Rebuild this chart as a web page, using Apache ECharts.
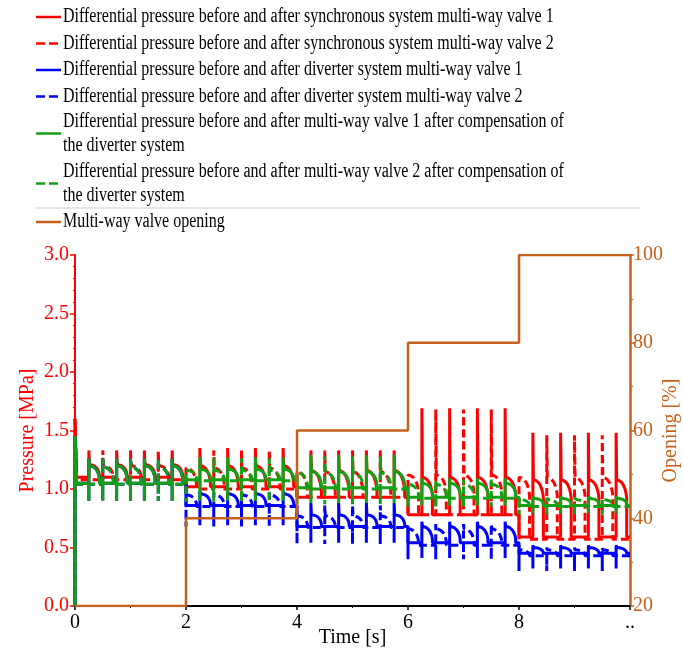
<!DOCTYPE html>
<html><head><meta charset="utf-8">
<script src="https://cdn.jsdelivr.net/npm/echarts@6/dist/echarts.min.js"></script>
<style>html,body{margin:0;padding:0;background:#fff}#c{width:683px;height:654px}</style>
</head><body><div id="c"></div>
<script>
const FONT = '"Liberation Serif","Times New Roman",serif';
const RED = '#FF0000', BLUE = '#0000FF', GREEN = '#14A014', ORANGE = '#C5611A';

// ---- axis ticks / labels ----
const timeTicks = [0, 2, 4, 6, 8, 10];
const timeTickLabels = ['0', '2', '4', '6', '8', '..'];
const pressureTicks = [0, 0.5, 1, 1.5, 2, 2.5, 3];
const pressureTickLabels = ['0.0', '0.5', '1.0', '1.5', '2.0', '2.5', '3.0'];
const openingTicks = [20, 40, 60, 80, 100];
const openingTickLabels = ['20', '40', '60', '80', '100'];

// ---- valve opening (step) ----
const openingTime  = [0, 2, 2, 4, 4, 6, 6, 8, 8, 10];
const openingValue = [20, 20, 40, 40, 60, 60, 80, 80, 100, 100];

// ---- switching stages and events ----
const stageStart = [0, 2, 4, 6, 8];
const valve1Times = [0.25, 0.75, 1.25, 1.75, 2.25, 2.75, 3.25, 3.75, 4.25, 4.75,
                     5.25, 5.75, 6.25, 6.75, 7.25, 7.75, 8.25, 8.75, 9.25, 9.75];
const valve2Times = [0.5, 1.0, 1.5, 2.0, 2.5, 3.0, 3.5, 4.0, 4.5, 5.0,
                     5.5, 6.0, 6.5, 7.0, 7.5, 8.0, 8.5, 9.0, 9.5];

// per stage: [spike peak, level after spike, end of decay curve, base level, dip]
const sync1Levels = [[1.33,1.21,1.12,1.10,1.10],[1.35,1.20,1.05,1.02,1.02],[1.33,1.16,0.98,0.93,0.93],[1.69,1.10,0.95,0.78,0.78],[1.48,1.08,0.92,0.59,0.59]];
const sync2Levels = [[1.33,1.20,1.11,1.08,1.08],[1.33,1.18,1.04,1.00,1.00],[1.33,1.15,0.97,0.93,0.93],[1.68,1.12,0.97,0.78,0.78],[1.46,1.10,0.94,0.57,0.57]];
const div1Levels  = [[1.26,1.20,1.09,1.05,0.90],[0.98,0.96,0.88,0.86,0.69],[0.88,0.78,0.70,0.68,0.54],[0.72,0.68,0.57,0.54,0.41],[0.52,0.50,0.46,0.45,0.32]];
const div2Levels  = [[1.26,1.19,1.08,1.04,0.90],[0.97,0.95,0.87,0.85,0.68],[0.86,0.77,0.69,0.67,0.53],[0.70,0.66,0.55,0.52,0.40],[0.50,0.48,0.44,0.43,0.30]];
const comp1Levels = [[1.26,1.20,1.09,1.05,0.90],[1.27,1.17,1.10,1.08,0.90],[1.29,1.15,1.04,1.01,0.88],[1.09,1.05,0.96,0.93,0.86],[0.93,0.92,0.88,0.86,0.79]];
const comp2Levels = [[1.26,1.19,1.08,1.04,0.90],[1.26,1.16,1.09,1.07,0.89],[1.28,1.14,1.03,1.00,0.87],[1.08,1.04,0.95,0.92,0.85],[0.92,0.91,0.87,0.85,0.78]];
// start-up transient peaks
const startPeaks = { sync1: 1.6, sync2: 1.6, div1: 1.45, div2: 1.45, comp1: 1.45, comp2: 1.45 };
// shape of the bend after each spike (time after event, fraction of the drop)
const curveDt   = [0.01, 0.05, 0.09, 0.13, 0.16, 0.18, 0.19];
const curveFrac = [0, 0.04, 0.12, 0.28, 0.50, 0.75, 1];

const names = [
  'Differential pressure before and after synchronous system multi-way valve 1',
  'Differential pressure before and after synchronous system multi-way valve 2',
  'Differential pressure before and after diverter system multi-way valve 1',
  'Differential pressure before and after diverter system multi-way valve 2',
  'Differential pressure before and after multi-way valve 1 after compensation of the diverter system',
  'Differential pressure before and after multi-way valve 2 after compensation of the diverter system',
  'Multi-way valve opening'
];
const legendTexts = [
  names[0], names[1], names[2], names[3],
  'Differential pressure before and after multi-way valve 1 after compensation of\nthe diverter system',
  'Differential pressure before and after multi-way valve 2 after compensation of\nthe diverter system',
  names[6]
];

function buildWave(events, levels, startPeak) {
  const pts = [[0, 0], [0, startPeak], [0.03, levels[0][3]]];
  let s = 0, base = levels[0][3];
  for (const ts of events) {
    while (s < stageStart.length - 1 && stageStart[s + 1] < ts) {
      s++;
      pts.push([stageStart[s], base]);
      base = levels[s][3];
      pts.push([stageStart[s], base]);
    }
    let atBoundary = false;
    if (s < stageStart.length - 1 && stageStart[s + 1] === ts) { s++; atBoundary = true; }
    const [P, H, M, L, D] = levels[s];
    pts.push([ts, base], [ts, D], [ts, atBoundary ? H : P]);
    for (let i = 0; i < curveDt.length; i++) pts.push([ts + curveDt[i], H - (H - M) * curveFrac[i]]);
    base = L;
    pts.push([ts + curveDt[curveDt.length - 1], base]);
  }
  pts.push([10, base]);
  return pts;
}

const DASH = [8, 4];
function lineSeries(name, data, color, dashed, z) {
  return {
    name, type: 'line', data, yAxisIndex: 0, showSymbol: false, symbol: 'none',
    sampling: null, animation: false, z,
    lineStyle: { color, width: 3, type: dashed ? DASH : 'solid' },
    itemStyle: { color }
  };
}

const openingData = openingTime.map((t, i) => [t, openingValue[i]]);

// legend drawn as graphic (horizontally condensed text, as in the figure)
const legendRows = [
  { y: 17, color: RED, dash: false },
  { y: 43.5, color: RED, dash: true },
  { y: 70, color: BLUE, dash: false },
  { y: 96.5, color: BLUE, dash: true },
  { y: 133.5, color: GREEN, dash: false },
  { y: 183.5, color: GREEN, dash: true },
  { y: 222, color: ORANGE, dash: false }
];
const graphics = [];
legendRows.forEach((r, i) => {
  graphics.push({
    type: 'line', shape: { x1: 36, y1: r.y, x2: 61, y2: r.y },
    style: { stroke: r.color, lineWidth: 2.5, lineDash: r.dash ? [9, 4] : null }
  });
  graphics.push({
    type: 'text', x: 63, y: r.y, scaleX: 0.8, scaleY: 1,
    style: { text: legendTexts[i], font: '20px ' + FONT, fill: '#000',
             verticalAlign: 'middle', textAlign: 'left', lineHeight: 23.5 }
  });
});
graphics.push({ type: 'line', shape: { x1: 35, y1: 208, x2: 640, y2: 208 },
  style: { stroke: '#cccccc', lineWidth: 1 } });

const chart = echarts.init(document.getElementById('c'), null, { renderer: 'canvas' });
chart.setOption({
  animation: false,
  backgroundColor: '#fff',
  grid: { left: 75, right: 53, top: 255, bottom: 48, outerBoundsMode: 'none', containLabel: false },
  graphic: graphics,
  xAxis: {
    type: 'value', min: 0, max: 10, interval: 2,
    axisLine: { show: true, onZero: false, lineStyle: { color: '#000', width: 2 } },
    axisTick: { show: true, length: 4, lineStyle: { color: '#000', width: 1.5 } },
    minorTick: { show: true, splitNumber: 2, length: 2, lineStyle: { color: '#000', width: 1 } },
    splitLine: { show: false },
    axisLabel: { color: '#000', fontSize: 20, fontFamily: FONT, margin: 7,
      formatter: v => { const i = timeTicks.indexOf(v); return i >= 0 ? timeTickLabels[i] : ''; } },
    name: 'Time [s]', nameLocation: 'middle', nameGap: 22, nameMoveOverlap: false,
    nameTextStyle: { color: '#000', fontSize: 20, fontFamily: FONT }
  },
  yAxis: [{
    type: 'value', min: 0, max: 3, interval: 0.5, position: 'left',
    axisLine: { show: true, lineStyle: { color: RED, width: 2 } },
    axisTick: { show: true, length: 5, lineStyle: { color: RED, width: 1.5 } },
    minorTick: { show: true, splitNumber: 5, length: 2, lineStyle: { color: RED, width: 1 } },
    splitLine: { show: false },
    axisLabel: { color: RED, fontSize: 20, fontFamily: FONT, margin: 6,
      formatter: v => { const i = pressureTicks.findIndex(t => Math.abs(t - v) < 1e-6); return i >= 0 ? pressureTickLabels[i] : ''; } },
    name: 'Pressure [MPa]', nameLocation: 'middle', nameGap: 37, nameRotate: 90, nameMoveOverlap: false,
    nameTextStyle: { color: RED, fontSize: 20, fontFamily: FONT }
  }, {
    type: 'value', min: 20, max: 100, interval: 20, position: 'right',
    axisLine: { show: true, lineStyle: { color: ORANGE, width: 2.5 } },
    axisTick: { show: true, length: 4, lineStyle: { color: ORANGE, width: 1.5 } },
    minorTick: { show: true, splitNumber: 2, length: 3, lineStyle: { color: ORANGE, width: 1 } },
    splitLine: { show: false },
    axisLabel: { color: ORANGE, fontSize: 20, fontFamily: FONT, margin: 3,
      formatter: v => { const i = openingTicks.indexOf(v); return i >= 0 ? openingTickLabels[i] : ''; } },
    name: 'Opening [%]', nameLocation: 'middle', nameGap: 31, nameRotate: 90, nameMoveOverlap: false,
    nameTextStyle: { color: ORANGE, fontSize: 20, fontFamily: FONT }
  }],
  series: [
    lineSeries(names[0], buildWave(valve1Times, sync1Levels, startPeaks.sync1), RED, false, 2),
    lineSeries(names[1], buildWave(valve2Times, sync2Levels, startPeaks.sync2), RED, true, 2),
    lineSeries(names[2], buildWave(valve1Times, div1Levels, startPeaks.div1), BLUE, false, 3),
    lineSeries(names[3], buildWave(valve2Times, div2Levels, startPeaks.div2), BLUE, true, 3),
    lineSeries(names[4], buildWave(valve1Times, comp1Levels, startPeaks.comp1), GREEN, false, 4),
    lineSeries(names[5], buildWave(valve2Times, comp2Levels, startPeaks.comp2), GREEN, true, 4),
    {
      name: names[6], type: 'line', yAxisIndex: 1, data: openingData, showSymbol: false,
      symbol: 'none', animation: false, z: 5,
      lineStyle: { color: ORANGE, width: 2.5 }, itemStyle: { color: ORANGE }
    }
  ]
});
</script></body></html>
